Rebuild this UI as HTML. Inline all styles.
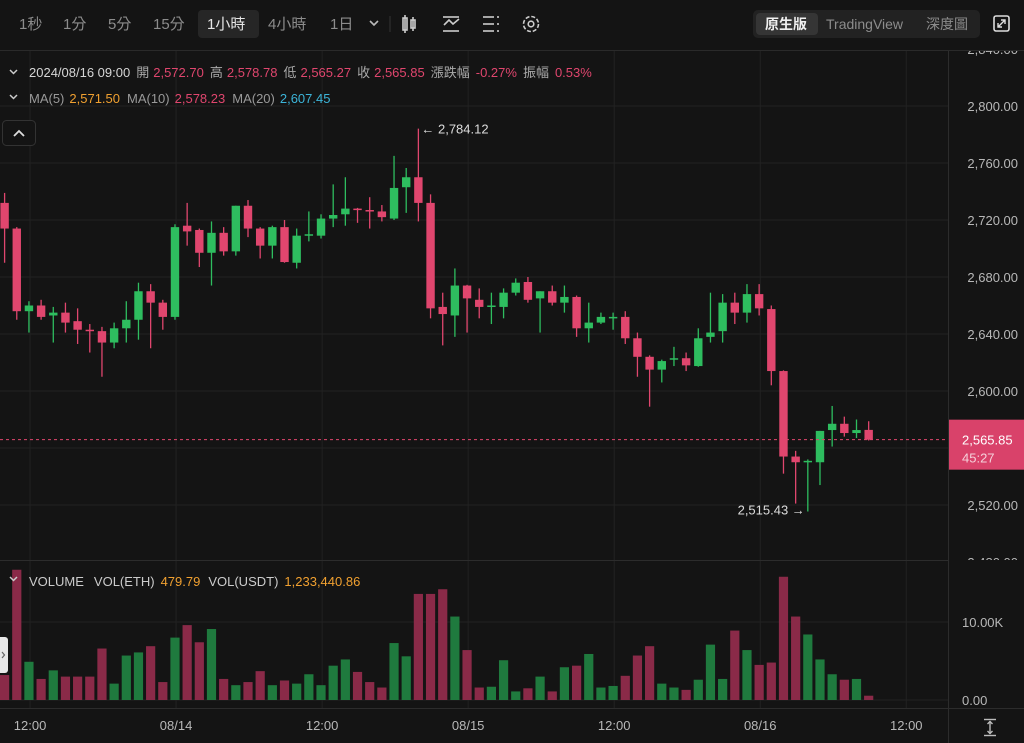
<!DOCTYPE html>
<html><head><meta charset="utf-8">
<style>
html,body{margin:0;padding:0;background:#141414;}
body{width:1024px;height:743px;overflow:hidden;position:relative;font-family:"Liberation Sans","Noto Sans CJK TC",sans-serif;}
svg{position:absolute;left:0;top:0;}
svg text{font-family:"Liberation Sans","Noto Sans CJK TC",sans-serif;}
</style></head>
<body>
<svg id="chart" width="1024" height="743" viewBox="0 0 1024 743">
  <rect x="0" y="0" width="1024" height="743" fill="#141414"/>
  <g id="grid"></g>
  <g id="vol"></g>
  <g id="candles"></g>
  <g id="plabels"></g>
  <g id="axes"></g>
  <!-- toolbar -->
  <rect x="0" y="0" width="1024" height="50" fill="#141414"/>
  <line x1="0" y1="50.5" x2="1024" y2="50.5" stroke="#2a2a2a"/>
  <rect x="198" y="10" width="61" height="28" rx="4" fill="#262626"/>
  <g font-size="15" fill="#8c8c8c">
    <text x="19" y="29">1秒</text>
    <text x="63" y="29">1分</text>
    <text x="108" y="29">5分</text>
    <text x="153" y="29">15分</text>
    <text x="207" y="29" fill="#e6e6e6">1小時</text>
    <text x="268" y="29">4小時</text>
    <text x="330" y="29">1日</text>
  </g>
  <path d="M370 21 l4 4 l4 -4" stroke="#bbb" stroke-width="1.6" fill="none"/>
  <line x1="390" y1="16" x2="390" y2="32" stroke="#333"/>
  <g stroke="#ccc" stroke-width="1.6" fill="none">
    <rect x="403" y="18" width="4" height="12"/><line x1="405" y1="15" x2="405" y2="33"/>
    <rect x="411" y="20" width="4" height="8"/><line x1="413" y1="17" x2="413" y2="31"/>
  </g>
  <g stroke="#ccc" stroke-width="1.6" fill="none">
    <path d="M444 25 l5 -5 l4 4 l6 -5"/><line x1="443" y1="31" x2="459" y2="31"/><line x1="443" y1="17" x2="459" y2="17"/>
  </g>
  <g stroke="#ccc" stroke-width="1.6">
    <line x1="483" y1="17" x2="494" y2="17"/><line x1="483" y1="24" x2="494" y2="24"/><line x1="483" y1="31" x2="494" y2="31"/>
    <line x1="497" y1="17" x2="499" y2="17"/><line x1="497" y1="24" x2="499" y2="24"/><line x1="497" y1="31" x2="499" y2="31"/>
  </g>
  <g>
    <circle cx="531" cy="24" r="7.5" stroke="#ccc" stroke-width="1.6" fill="none" stroke-dasharray="4 1.9"/>
    <circle cx="531" cy="24" r="2.8" stroke="#ccc" stroke-width="1.6" fill="none"/>
  </g>
  <rect x="753" y="10" width="227" height="28" rx="5" fill="#222"/>
  <rect x="756" y="13" width="62" height="22" rx="4" fill="#353535"/>
  <text x="765" y="29" font-size="14" fill="#f0f0f0" font-weight="bold">原生版</text>
  <text x="826" y="29" font-size="14" fill="#8c8c8c">TradingView</text>
  <text x="926" y="29" font-size="14" fill="#8c8c8c">深度圖</text>
  <g>
    <rect x="994" y="16" width="15" height="15" rx="2" stroke="#ddd" stroke-width="1.6" fill="none"/>
    <path d="M998 27 l7 -7 M1001 20 h4 v4 M998 23 v4 h4" stroke="#ddd" stroke-width="1.4" fill="none"/>
  </g>
  <!-- info rows -->
  <g font-size="13">
    <path d="M10 70 l3.5 3.5 l3.5 -3.5" stroke="#ccc" stroke-width="1.5" fill="none"/>
    <text x="29" y="77"><tspan fill="#d6d6d6">2024/08/16 09:00</tspan><tspan fill="#aaa" dx="6">開</tspan><tspan fill="#e0466e" dx="4">2,572.70</tspan><tspan fill="#aaa" dx="6">高</tspan><tspan fill="#e0466e" dx="4">2,578.78</tspan><tspan fill="#aaa" dx="6">低</tspan><tspan fill="#e0466e" dx="4">2,565.27</tspan><tspan fill="#aaa" dx="6">收</tspan><tspan fill="#e0466e" dx="4">2,565.85</tspan><tspan fill="#aaa" dx="6">漲跌幅</tspan><tspan fill="#e0466e" dx="6">-0.27%</tspan><tspan fill="#aaa" dx="6">振幅</tspan><tspan fill="#e0466e" dx="6">0.53%</tspan></text>
    <path d="M10 95 l3.5 3.5 l3.5 -3.5" stroke="#ccc" stroke-width="1.5" fill="none"/>
    <text x="29" y="103"><tspan fill="#999">MA(5)</tspan><tspan fill="#f0a030" dx="5">2,571.50</tspan><tspan fill="#999" dx="7">MA(10)</tspan><tspan fill="#e0466e" dx="5">2,578.23</tspan><tspan fill="#999" dx="7">MA(20)</tspan><tspan fill="#3cb4d8" dx="5">2,607.45</tspan></text>
  </g>
  <g>
    <rect x="2.5" y="120.5" width="33" height="25" rx="4" fill="#141414" stroke="#333"/>
    <path d="M14 136 l5 -5 l5 5" stroke="#ddd" stroke-width="1.8" fill="none"/>
  </g>
  <g font-size="13">
    <path d="M10 577 l3.5 3.5 l3.5 -3.5" stroke="#ccc" stroke-width="1.5" fill="none"/>
    <text x="29" y="586"><tspan fill="#ccc">VOLUME</tspan><tspan fill="#ccc" dx="10">VOL(ETH)</tspan><tspan fill="#f0a030" dx="6">479.79</tspan><tspan fill="#ccc" dx="8">VOL(USDT)</tspan><tspan fill="#f0a030" dx="6">1,233,440.86</tspan></text>
  </g>
  <rect x="-4" y="637" width="12" height="36" rx="3" fill="#e8e8e8"/>
  <path d="M2 652 l2.5 3 l-2.5 3" stroke="#666" stroke-width="1.2" fill="none"/>
  <g stroke="#bbb" stroke-width="1.4">
    <line x1="984" y1="719.5" x2="996" y2="719.5"/><line x1="984" y1="735.5" x2="996" y2="735.5"/>
    <line x1="990" y1="721" x2="990" y2="734"/><path d="M987.5 724 l2.5 -2.5 l2.5 2.5 M987.5 731 l2.5 2.5 l2.5 -2.5" fill="none"/>
  </g>
</svg>
<script>
const opens  = [2732,2714,2656,2660,2653,2655,2649,2643,2642,2634,2644,2650,2670,2662,2652,2716,2713,2697,2711,2698,2730,2714,2702,2715,2690,2709,2709,2721,2724,2728,2727,2726,2721,2743,2750,2732,2659,2653,2674,2664,2659,2659,2669,2676.5,2665,2670,2662,2666,2644,2648,2651,2652,2637,2624,2615,2622.5,2623,2617.5,2638,2642,2662,2655,2668,2657.5,2614,2554,2550,2550,2572.6,2577,2570.5,2572.70];
const highs  = [2739,2715,2663,2664,2659,2662,2658,2647,2645,2648,2663,2676,2675,2664,2717,2732,2714,2719,2715,2730,2734,2715,2716,2720,2714,2726,2724,2745,2750,2728.5,2736,2730.5,2765,2756.5,2784.12,2738,2669,2686,2674.5,2672,2669,2672,2679,2680,2670,2674,2674,2667,2662,2655,2655,2656,2641,2625,2622,2631,2627,2644,2669,2668,2669,2675,2675,2660,2614.5,2558,2552,2572,2589.5,2582,2580,2578.78];
const lows   = [2690,2650,2641,2650,2634,2641,2633,2627,2610,2630,2634,2636,2630,2643,2650,2702,2687,2674,2695,2695,2708,2693,2693,2690,2686,2705,2707,2715,2716,2718,2714,2719,2720,2725,2719,2651,2632,2638,2641,2651,2647,2651,2667,2662,2641,2660,2655,2638,2634,2647,2643,2633,2610,2589,2606,2617.5,2614,2617,2634,2634,2647,2648,2653,2604,2542,2521,2515.43,2534,2561,2568,2567,2565.27];
const closes = [2714,2656,2660,2652,2655,2648,2643,2642,2634,2644,2650,2670,2662,2652,2715,2712,2697,2711,2698,2730,2714,2702,2715,2690.5,2709,2710,2721,2723.5,2728,2727,2726,2722,2742.5,2750,2732,2658,2654,2674,2665,2659,2660,2669,2676,2664,2670,2662,2666,2644,2648,2652,2652,2637,2624,2615,2621,2623,2618,2637,2641,2662,2655,2668,2658,2614,2554,2550,2551,2572,2577,2570.5,2572.6,2565.85];
const volumesK = [3.2,16.7,4.9,2.7,3.8,3.0,3.0,3.0,6.6,2.1,5.7,6.1,6.9,2.3,8.0,9.6,7.4,9.1,2.7,1.9,2.3,3.7,1.9,2.5,2.1,3.3,1.9,4.4,5.2,3.6,2.3,1.6,7.3,5.6,13.6,13.6,14.2,10.7,6.4,1.6,1.7,5.1,1.1,1.5,3.0,1.1,4.2,4.4,5.9,1.6,1.8,3.1,5.7,6.9,2.1,1.6,1.3,2.6,7.1,2.7,8.9,6.4,4.5,4.8,15.8,10.7,8.4,5.2,3.3,2.6,2.7,0.55];
const priceTicks = [2840,2800,2760,2720,2680,2640,2600,2560,2520,2480];
const priceTickLabels = ["2,840.00","2,800.00","2,760.00","2,720.00","2,680.00","2,640.00","2,600.00","2,560.00","2,520.00","2,480.00"];
const volTicks = [10,0];
const volTickLabels = ["10.00K","0.00"];
const timeTickIndex = [2,14,26,38,50,62,74];
const timeTickLabels = ["12:00","08/14","12:00","08/15","12:00","08/16","12:00"];
const lastPrice = 2565.85;
const lastPriceLabel = "2,565.85";
const countdown = "45:27";
const maxLabel = "← 2,784.12";
const minLabel = "2,515.43 →";

const NS="http://www.w3.org/2000/svg";
const PANE_R=948, P_TOP=51, P_BOT=560, V_BOT=708;
function yP(p){return 106+(2800-p)*1.425;}
function yV(v){return 700-v*7.8;}
function xI(i){return 4.6+12.17*i;}
function mk(tag,attrs,parent){const e=document.createElementNS(NS,tag);for(const k in attrs)e.setAttribute(k,attrs[k]);parent.appendChild(e);return e;}
const grid=document.getElementById('grid'),vol=document.getElementById('vol'),cg=document.getElementById('candles'),ax=document.getElementById('axes'),pl=document.getElementById('plabels');
const GRID="#222";

const defs=mk('defs',{},document.getElementById('chart'));
const cp=mk('clipPath',{id:'pclip'},defs);mk('rect',{x:0,y:P_TOP,width:PANE_R,height:P_BOT-P_TOP},cp);
const cp2=mk('clipPath',{id:'lclip'},defs);mk('rect',{x:PANE_R,y:P_TOP,width:1024-PANE_R,height:P_BOT-P_TOP},cp2);
cg.setAttribute('clip-path','url(#pclip)');
pl.setAttribute('clip-path','url(#lclip)');

priceTicks.forEach((p,k)=>{
  const y=yP(p);
  if(y>P_TOP&&y<P_BOT){const l=mk('line',{x1:0,x2:PANE_R,y1:y,y2:y,stroke:GRID},grid);
  
  }
  const t=mk('text',{x:1018,y:y+5,'text-anchor':'end','font-size':13,fill:'#b8b8b8'},pl);
  t.textContent=priceTickLabels[k];
  
  
});
volTicks.forEach((v,k)=>{
  const y=yV(v);
  const l=mk('line',{x1:0,x2:PANE_R,y1:y,y2:y,stroke:GRID},grid);
  
  
  const t=mk('text',{x:962,y:y+5,'font-size':13,fill:'#b8b8b8'},ax);
  t.textContent=volTickLabels[k];
  
  
});
timeTickIndex.forEach((i,k)=>{
  const x=xI(i)+1.1;
  const l=mk('line',{x1:x,x2:x,y1:P_TOP,y2:V_BOT,stroke:GRID},grid);
  
  
  const t=mk('text',{x:x,y:730,'text-anchor':'middle','font-size':13,fill:'#b8b8b8'},ax);
  t.textContent=timeTickLabels[k];
  
  
});
[[0,P_BOT+0.5,PANE_R,P_BOT+0.5],[0,V_BOT+0.5,1024,V_BOT+0.5],[PANE_R+0.5,P_TOP,PANE_R+0.5,743]].forEach(s=>{
  const l=mk('line',{x1:s[0],y1:s[1],x2:s[2],y2:s[3],stroke:'#2c2c2c'},ax);
  
  
});

for(let i=0;i<opens.length;i++){
  const up=closes[i]>=opens[i];
  const col=up?'#2ebd5f':'#e0466e';
  const x=xI(i);
  const w=mk('line',{x1:x,x2:x,y1:yP(highs[i]),y2:yP(lows[i]),stroke:col,'stroke-width':1.3},cg);
  
  
  const top=yP(Math.max(opens[i],closes[i])),bot=yP(Math.min(opens[i],closes[i]));
  const b=mk('rect',{x:x-4.2,y:top,width:8.4,height:Math.max(1.5,bot-top),fill:col},cg);
  
  
  const vy=yV(volumesK[i]);
  const vb=mk('rect',{x:x-4.6,y:Math.max(vy,P_BOT+1),width:9.2,height:700-Math.max(vy,P_BOT+1),fill:up?'#1f7a3e':'#8a2a48'},vol);
  
  
}
const ly=yP(lastPrice);
const dl=mk('line',{x1:0,x2:PANE_R,y1:ly,y2:ly,stroke:'#e0466e','stroke-dasharray':'3 3'},ax);


const lb=mk('rect',{x:PANE_R+1,y:ly-20,width:1024-PANE_R,height:50,fill:'#d9426a'},ax);


const lt=mk('text',{x:962,y:ly+5,'font-size':13,fill:'#fff'},ax);lt.textContent=lastPriceLabel;


const ct=mk('text',{x:962,y:ly+23,'font-size':13,fill:'#f5d0da'},ax);ct.textContent=countdown;


let mi=0,ni=0;for(let i=0;i<highs.length;i++){if(highs[i]>highs[mi])mi=i;if(lows[i]<lows[ni])ni=i;}
const mx=mk('text',{x:xI(mi)+3,y:yP(highs[mi])+5,'font-size':13,fill:'#ddd'},ax);mx.textContent=maxLabel;


const mn=mk('text',{x:xI(ni)-3,y:yP(lows[ni])+3,'font-size':13,fill:'#ddd','text-anchor':'end'},ax);mn.textContent=minLabel;


</script>
</body></html>
